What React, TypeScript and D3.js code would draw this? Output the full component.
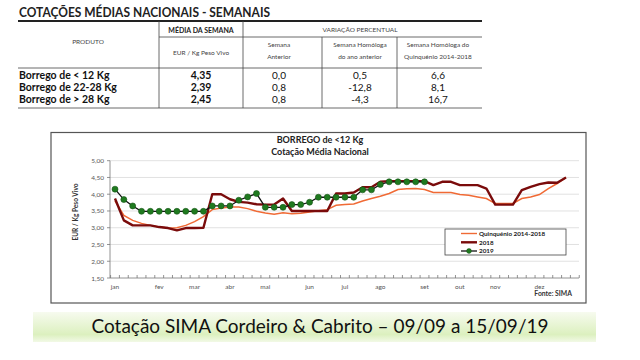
import React from 'react';
import * as d3 from 'd3';

// Table data
const produtos = ['Borrego de < 12 Kg', 'Borrego de 22-28 Kg', 'Borrego de > 28 Kg'];
const mediaSemana = ['4,35', '2,39', '2,45'];
const semanaAnterior = ['0,0', '0,8', '0,8'];
const homologaAno = ['0,5', '-12,8', '-4,3'];
const homologaQuinq = ['6,6', '8,1', '16,7'];

// Chart data (weekly, EUR / Kg peso vivo)
const quinquenio = [3.80, 3.37, 3.22, 3.13, 3.07, 3.02, 2.99, 3.00, 3.07, 3.18, 3.33, 3.54, 3.59, 3.62, 3.62, 3.57, 3.49, 3.44,
  3.40, 3.45, 3.42, 3.43, 3.47, 3.51, 3.54, 3.67, 3.69, 3.71, 3.80, 3.87, 3.94, 4.02, 4.14, 4.16, 4.17, 4.14,
  4.05, 4.05, 4.05, 3.99, 3.97, 3.92, 3.87, 3.72, 3.72, 3.72, 3.87, 3.92, 3.99, 4.17, 4.32, 4.50];
const ano2018 = [3.87, 3.22, 3.07, 3.07, 3.07, 3.02, 2.99, 2.92, 2.99, 2.99, 3.00, 4.00, 4.00, 3.85, 3.77, 3.75, 3.70, 3.69,
  3.69, 3.87, 3.50, 3.50, 3.50, 3.50, 3.50, 4.02, 4.02, 4.05, 4.21, 4.21, 4.37, 4.39, 4.39, 4.39, 4.39, 4.39,
  4.27, 4.37, 4.37, 4.27, 4.27, 4.27, 4.17, 3.69, 3.69, 3.69, 4.12, 4.22, 4.30, 4.35, 4.34, 4.50];
const ano2019 = [4.15, 3.84, 3.65, 3.49, 3.49, 3.49, 3.49, 3.49, 3.49, 3.49, 3.49, 3.65, 3.65, 3.65, 3.82, 3.92, 4.02, 3.61,
  3.61, 3.61, 3.69, 3.69, 3.76, 3.91, 3.91, 3.91, 3.91, 3.91, 4.13, 4.13, 4.29, 4.37, 4.37, 4.37, 4.37, 4.37];

const meses = ['jan', 'fev', 'mar', 'abr', 'mai', 'jun', 'jul', 'ago', 'set', 'out', 'nov', 'dez'];
const mesSemana = [0, 5, 9, 13, 17, 22, 26, 30, 35, 39, 43, 48];
const yTicks = [1.5, 2, 2.5, 3, 3.5, 4, 4.5, 5];

const font = 'Lato, "Open Sans", sans-serif';

export default function App() {
  const x = d3.scaleLinear().domain([0, 51]).range([115, 566]);
  const y = d3.scaleLinear().domain([1.5, 5]).range([278, 160.7]);
  const line = d3.line<number>().x((_, i) => x(i)).y(d => y(d));
  const weekTicks = d3.range(0, 54).map(i => x(i - 0.5));
  const fmt = (v: number) => d3.format('.2f')(v).replace('.', ',');

  // table columns
  const cols = [201, 279, 360, 438];
  const rowsY = [78.5, 90.5, 102.5];

  return (
    <svg width={640} height={360} style={{ position: 'absolute', left: 0, top: 0, background: '#fff' }}
      fontFamily={font}>
      <defs>
        <linearGradient id="banner" x1="0" y1="0" x2="0" y2="1">
          <stop offset="0%" stopColor="#f7fbef" />
          <stop offset="75%" stopColor="#dcf0bf" />
          <stop offset="100%" stopColor="#f2f9e6" />
        </linearGradient>
      </defs>

      {/* table */}
      <text x={19} y={17} fontSize={13.5} fontWeight="bold" fill="#222" textLength={251}
        lengthAdjust="spacingAndGlyphs">COTAÇÕES MÉDIAS NACIONAIS - SEMANAIS</text>
      <line x1={18} x2={482} y1={21} y2={21} stroke="#222" strokeWidth={1.8} />
      <line x1={159} x2={482} y1={37} y2={37} stroke="#444" strokeWidth={0.8} />
      <line x1={18} x2={482} y1={68} y2={68} stroke="#444" strokeWidth={0.8} />
      <line x1={18} x2={482} y1={108} y2={108} stroke="#444" strokeWidth={0.8} />
      {[159, 243].map(v => <line key={v} x1={v} x2={v} y1={21} y2={108} stroke="#444" strokeWidth={0.8} />)}
      {[322, 397].map(v => <line key={v} x1={v} x2={v} y1={37} y2={108} stroke="#444" strokeWidth={0.8} />)}

      <g fontSize={6.5} fill="#444" textAnchor="middle">
        <text x={88} y={44}>PRODUTO</text>
        <text x={201} y={33} fontWeight="bold" fontSize={7} fill="#222">MÉDIA DA SEMANA</text>
        <text x={360} y={32}>VARIAÇÃO PERCENTUAL</text>
        <text x={201} y={55}>EUR / Kg Peso Vivo</text>
        <text x={279} y={47}>Semana</text>
        <text x={279} y={59}>Anterior</text>
        <text x={360} y={47}>Semana Homóloga</text>
        <text x={360} y={59}>do ano anterior</text>
        <text x={438} y={47}>Semana Homóloga do</text>
        <text x={438} y={59}>Quinquénio 2014-2018</text>
      </g>

      {produtos.map((p, i) => (
        <g key={p} fill="#111">
          <text x={19} y={rowsY[i]} fontSize={10.5} fontWeight="bold">{p}</text>
          <text x={cols[0]} y={rowsY[i]} fontSize={10.5} fontWeight="bold" textAnchor="middle">{mediaSemana[i]}</text>
          <text x={cols[1]} y={rowsY[i]} fontSize={10} textAnchor="middle">{semanaAnterior[i]}</text>
          <text x={cols[2]} y={rowsY[i]} fontSize={10} textAnchor="middle">{homologaAno[i]}</text>
          <text x={cols[3]} y={rowsY[i]} fontSize={10} textAnchor="middle">{homologaQuinq[i]}</text>
        </g>
      ))}

      {/* chart frame */}
      <rect x={51} y={132.5} width={535} height={170.5} fill="#fff" stroke="#555" strokeWidth={1.2} />
      <text x={320} y={143} fontSize={9} fontWeight="bold" textAnchor="middle" fill="#222">BORREGO de &lt;12 Kg</text>
      <text x={320} y={155} fontSize={9} fontWeight="bold" textAnchor="middle" fill="#222">Cotação Média Nacional</text>

      {yTicks.map(t => (
        <g key={t}>
          {t > 1.5 && <line x1={110} x2={579} y1={y(t)} y2={y(t)} stroke="#d9d9d9" strokeWidth={0.8} />}
          <line x1={107} x2={110} y1={y(t)} y2={y(t)} stroke="#777" strokeWidth={0.8} />
          <text x={104} y={y(t) + 2.5} fontSize={6.5} textAnchor="end" fill="#555">{fmt(t)}</text>
        </g>
      ))}
      <line x1={110} x2={110} y1={y(5)} y2={y(1.5)} stroke="#777" strokeWidth={0.8} />
      <line x1={110} x2={579} y1={y(1.5)} y2={y(1.5)} stroke="#777" strokeWidth={0.8} />
      {weekTicks.map((t, i) => <line key={i} x1={t} x2={t} y1={y(1.5)} y2={y(1.5) - 3} stroke="#777" strokeWidth={0.8} />)}
      {meses.map((m, i) => (
        <text key={m} x={x(mesSemana[i])} y={289} fontSize={6.5} textAnchor="middle" fill="#555">{m}</text>
      ))}
      <text transform="translate(78,212) rotate(-90)" fontSize={6.5} fontWeight="bold" textAnchor="middle" fill="#333">
        EUR / Kg Peso Vivo</text>
      <text x={572} y={296} fontSize={6.8} fontWeight="bold" textAnchor="end" fill="#333">Fonte: SIMA</text>

      {/* series */}
      <path d={line(quinquenio) || ''} fill="none" stroke="#f06a35" strokeWidth={1.5} />
      <path d={line(ano2018) || ''} fill="none" stroke="#7a0b0b" strokeWidth={2.4} strokeLinejoin="round" />
      <path d={line(ano2019) || ''} fill="none" stroke="#111" strokeWidth={1.3} />
      {ano2019.map((v, i) => (
        <circle key={i} cx={x(i)} cy={y(v)} r={3} fill="#1f7a1f" stroke="#145214" strokeWidth={0.6} />
      ))}

      {/* legend */}
      <rect x={445} y={229} width={121} height={26} fill="#fff" stroke="#444" strokeWidth={0.8} />
      <g fontSize={6.3} fontWeight="bold" fill="#222">
        <line x1={461} x2={477} y1={233.5} y2={233.5} stroke="#f06a35" strokeWidth={1.4} />
        <text x={479} y={235.8}>Quinquénio 2014-2018</text>
        <line x1={461} x2={477} y1={242.3} y2={242.3} stroke="#7a0b0b" strokeWidth={2.4} />
        <text x={479} y={244.6}>2018</text>
        <line x1={461} x2={477} y1={251} y2={251} stroke="#111" strokeWidth={1.3} />
        <circle cx={469} cy={251} r={2.4} fill="#1f7a1f" stroke="#145214" strokeWidth={0.5} />
        <text x={479} y={253.3}>2019</text>
      </g>

      {/* banner */}
      <rect x={33} y={312} width={563} height={30} fill="url(#banner)" />
      <text x={320} y={333} fontSize={19.5} textAnchor="middle" fill="#111"
        textLength={457} lengthAdjust="spacingAndGlyphs">Cotação SIMA Cordeiro &amp; Cabrito – 09/09 a 15/09/19</text>
    </svg>
  );
}
